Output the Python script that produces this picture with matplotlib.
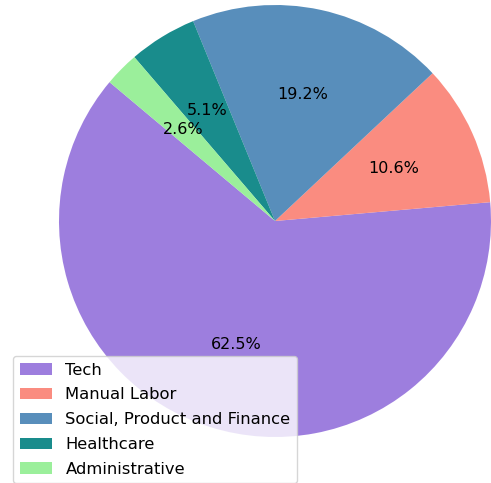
import matplotlib
matplotlib.use("Agg")
import matplotlib.pyplot as plt

# job category shares (percent)
categories = ["Tech", "Manual Labor", "Social, Product and Finance", "Healthcare", "Administrative"]
shares = [62.5, 10.6, 19.2, 5.1, 2.6]
colors = ["mediumpurple", "salmon", "steelblue", "teal", "lightgreen"]

fig = plt.figure(figsize=(4.91, 4.83), dpi=100)
W, H = 491, 483
cx, cy, r = 275, 221, 216
ax = fig.add_axes([(cx - r) / W, (H - cy - r) / H, 2 * r / W, 2 * r / H])

wedges, texts, autotexts = ax.pie(shares, colors=colors, autopct="%1.1f%%",
                                  startangle=140, wedgeprops={"alpha": 0.9},
                                  textprops={"fontsize": 11.5})
ax.set_xlim(-1, 1)
ax.set_ylim(-1, 1)
ax.set_aspect("equal")

fig.legend(wedges, categories, loc="upper left", fontsize=11.8, labelspacing=0.6,
           bbox_to_anchor=(13 / W, 1 - 356 / H), borderaxespad=0)

fig.savefig("out.png", dpi=100)
